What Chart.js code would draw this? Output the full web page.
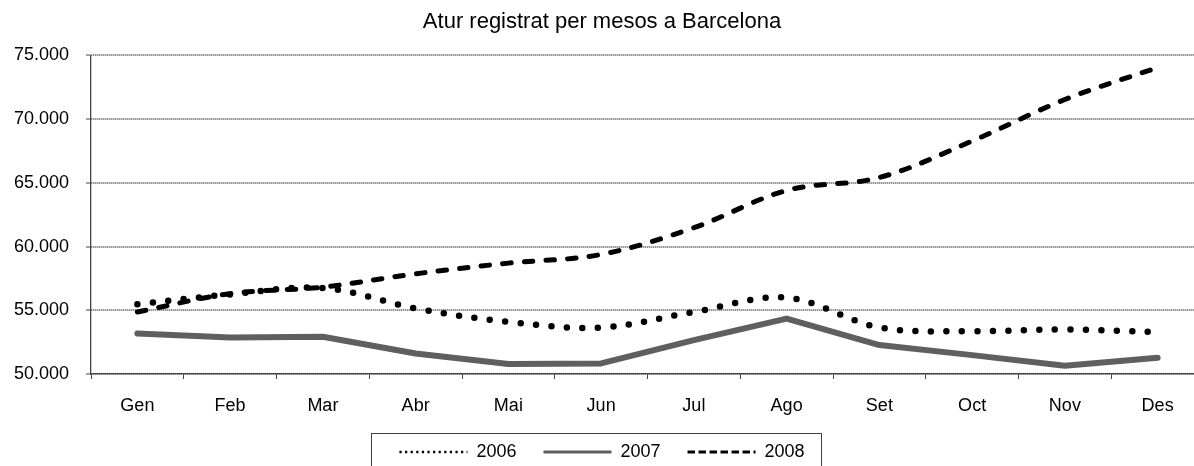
<!DOCTYPE html>
<html>
<head>
<meta charset="utf-8">
<title>Atur registrat per mesos a Barcelona</title>
<script src="https://cdn.jsdelivr.net/npm/chart.js@4/dist/chart.umd.min.js"></script>
<style>
    body { margin: 0; background: #fff; }
    #wrap { width: 1194px; height: 466px; overflow: hidden; }
</style>
</head>
<body>
<div id="wrap"><canvas id="aturChart" width="1204" height="474"></canvas></div>
<script>
// Data
const months = ['Gen', 'Feb', 'Mar', 'Abr', 'Mai', 'Jun', 'Jul', 'Ago', 'Set', 'Oct', 'Nov', 'Des'];
const years = ['2006', '2007', '2008'];
const atur2006 = [55470, 56250, 56750, 55150, 54090, 53650, 54870, 55990, 53650, 53360, 53490, 53300];
const atur2007 = [53180, 52870, 52920, 51610, 50780, 50830, 52660, 54350, 52270, 51480, 50650, 51280];
const atur2008 = [54870, 56300, 56820, 57860, 58700, 59380, 61480, 64400, 65420, 68280, 71540, 74050];
const yTicks = [50000, 55000, 60000, 65000, 70000, 75000];

// Legend samples are thinner than the lines themselves
const legendStyles = [
    { lineWidth: 2.5, lineDash: [2.2, 3.4] },
    { lineWidth: 3, lineDash: [] },
    { lineWidth: 3, lineDash: [7.5, 3.5] }
];

Chart.defaults.font.family = "'Liberation Sans', Arial, sans-serif";
Chart.defaults.color = '#000';

function formatThousands(v) {
    return String(v).replace(/\B(?=(\d{3})+(?!\d))/g, '.');
}

// Box round the legend, taken from the legend's own hit boxes
const legendFrame = {
    id: 'legendFrame',
    afterDraw(chart) {
        const boxes = chart.legend.legendHitBoxes;
        if (!boxes || !boxes.length) return;
        const first = boxes[0];
        const last = boxes[boxes.length - 1];
        const left = Math.round(first.left - 28);
        const right = Math.round(last.left + last.width + 16);
        const ctx = chart.ctx;
        ctx.save();
        ctx.strokeStyle = '#404040';
        ctx.lineWidth = 1;
        ctx.strokeRect(left + 0.5, Math.round(first.top - 10) + 0.5, right - left, 80);
        ctx.restore();
    }
};

const ctx = document.getElementById('aturChart').getContext('2d');
new Chart(ctx, {
    type: 'line',
    data: {
        labels: months,
        datasets: [
            {
                label: years[0],
                data: atur2006,
                borderColor: '#000',
                borderWidth: 6.5,
                borderDash: [0, 15.5],
                borderCapStyle: 'round',
                tension: 0.35,
                pointRadius: 0
            },
            {
                label: years[1],
                data: atur2007,
                borderColor: '#5f5f5f',
                borderWidth: 6,
                borderCapStyle: 'round',
                borderJoinStyle: 'round',
                tension: 0,
                pointRadius: 0
            },
            {
                label: years[2],
                data: atur2008,
                borderColor: '#000',
                borderWidth: 5,
                borderDash: [8.5, 13.2],
                borderCapStyle: 'round',
                tension: 0.35,
                pointRadius: 0
            }
        ]
    },
    options: {
        responsive: false,
        animation: false,
        layout: {
            padding: { left: 0, right: 0, top: 0, bottom: 3 }
        },
        scales: {
            x: {
                offset: true,
                afterFit(scale) {
                    scale.height = 42;
                },
                grid: {
                    offset: true,
                    drawOnChartArea: false,
                    tickLength: 5,
                    tickColor: '#444',
                    tickWidth: 1
                },
                border: { color: '#444', width: 1.3 },
                ticks: {
                    padding: 16,
                    font: { size: 18 },
                    color: '#000'
                }
            },
            y: {
                min: yTicks[0],
                max: yTicks[yTicks.length - 1],
                afterFit(scale) {
                    scale.width = 91;
                },
                afterBuildTicks(scale) {
                    scale.ticks = yTicks.map(v => ({ value: v }));
                },
                grid: {
                    color: '#666',
                    lineWidth: 2,
                    tickLength: 5,
                    tickColor: '#444',
                    tickWidth: 1,
                    tickBorderDash: []
                },
                border: { color: '#444', width: 1.3, dash: [1, 1] },
                ticks: {
                    padding: 17,
                    font: { size: 18 },
                    color: '#000',
                    callback: v => formatThousands(v)
                }
            }
        },
        plugins: {
            title: {
                display: true,
                text: 'Atur registrat per mesos a Barcelona',
                font: { size: 22, weight: 'normal' },
                color: '#000',
                padding: { top: 9, bottom: 20 }
            },
            legend: {
                position: 'bottom',
                labels: {
                    usePointStyle: true,
                    pointStyle: 'line',
                    pointStyleWidth: 68,
                    padding: 27,
                    font: { size: 18 },
                    color: '#000',
                    generateLabels(chart) {
                        const items = Chart.defaults.plugins.legend.labels.generateLabels(chart);
                        items.forEach((item, i) => {
                            item.lineWidth = legendStyles[i].lineWidth;
                            item.lineDash = legendStyles[i].lineDash;
                            item.lineCap = 'butt';
                            item.pointStyle = 'line';
                        });
                        return items;
                    }
                }
            },
            tooltip: { enabled: false }
        }
    },
    plugins: [legendFrame]
});
</script>
</body>
</html>
